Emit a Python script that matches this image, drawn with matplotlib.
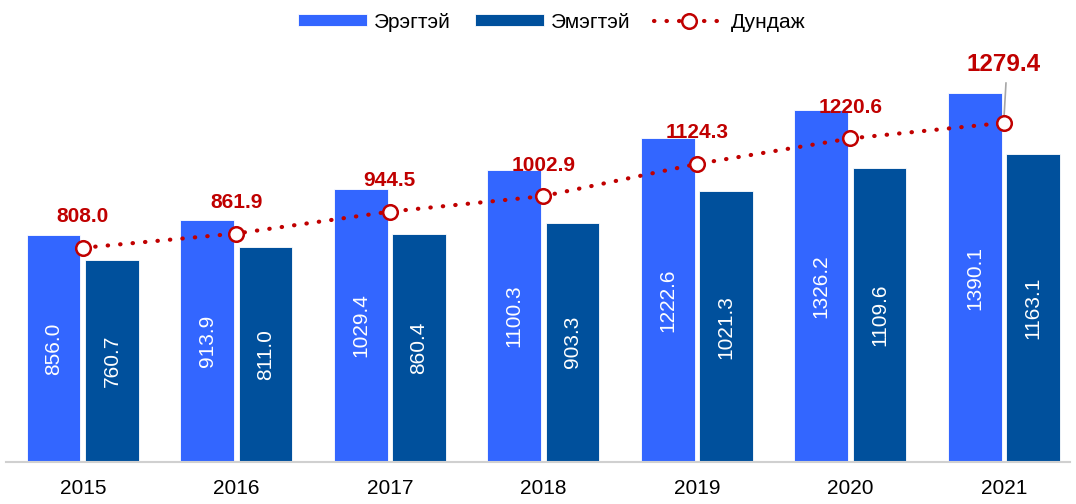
import matplotlib
matplotlib.use("Agg")
from matplotlib import pyplot as plt
import numpy as np

## Données
annees = ["2015", "2016", "2017", "2018", "2019", "2020", "2021"]
eregtei = [856.0, 913.9, 1029.4, 1100.3, 1222.6, 1326.2, 1390.1]
emegtei = [760.7, 811.0, 860.4, 903.3, 1021.3, 1109.6, 1163.1]
dundaj = [808.0, 861.9, 944.5, 1002.9, 1124.3, 1220.6, 1279.4]

## Couleurs
bleu = "#3366FF"
bleu_fonce = "#00509C"
rouge = "#C00000"

plt.rcParams["font.family"] = ["Liberation Sans", "DejaVu Sans"]

fig = plt.figure(figsize=(10.76, 5.04), dpi=100)
ax = fig.add_axes([6 / 1076, 42 / 504, 1064 / 1076, 417 / 504])

x = np.arange(len(annees))
w = 0.35
d = 0.19
b1 = ax.bar(x - d, eregtei, w, color=bleu, edgecolor="white", linewidth=0.6, label="Эрэгтэй", zorder=2)
b2 = ax.bar(x + d, emegtei, w, color=bleu_fonce, edgecolor="white", linewidth=0.6, label="Эмэгтэй", zorder=2)

# valeurs au milieu des barres
for i in range(len(annees)):
    ax.text(x[i] - d, eregtei[i] / 2, "%.1f" % eregtei[i], rotation=90, color="white", fontsize=15,
            ha="center", va="center", zorder=3)
    ax.text(x[i] + d, emegtei[i] / 2, "%.1f" % emegtei[i], rotation=90, color="white", fontsize=15,
            ha="center", va="center", zorder=3)

ligne, = ax.plot(x, dundaj, color=rouge, linewidth=3, linestyle=(0, (0.1, 2.9)), dash_capstyle="round",
                 marker="o", markersize=10.5, markerfacecolor="white", markeredgecolor=rouge,
                 markeredgewidth=1.8, label="Дундаж", zorder=4)

for i in range(len(annees) - 1):
    ax.text(x[i], dundaj[i] + 117, "%.1f" % dundaj[i], color=rouge, fontsize=15,
            fontweight="bold", ha="center", va="center", zorder=5)

# dernière valeur avec trait de rappel
ax.plot([x[-1], x[-1] + 0.013], [dundaj[-1] + 18, dundaj[-1] + 150], color="#A6A6A6",
        linewidth=1.2, zorder=3)
ax.text(x[-1], dundaj[-1] + 219, "%.1f" % dundaj[-1], color=rouge, fontsize=17.5,
        fontweight="bold", ha="center", va="center", zorder=5)

ax.set_xlim(-0.5, 6.43)
ax.set_ylim(0, 1573)
ax.set_xticks(x)
ax.set_xticklabels(annees, fontsize=15)
ax.tick_params(axis="x", length=0, pad=12)
ax.set_yticks([])
for s in ["top", "right", "left"]:
    ax.spines[s].set_visible(False)
ax.spines["bottom"].set_color("#D0D0D0")
ax.spines["bottom"].set_linewidth(1.5)

fig.legend([b1, b2, ligne], ["Эрэгтэй", "Эмэгтэй", "Дундаж"], loc="center",
           bbox_to_anchor=(0.5126, 1 - 22 / 504), ncol=3, frameon=False, fontsize=15,
           handlelength=3.3, handleheight=0.5, columnspacing=1.15, handletextpad=0.35)

plt.savefig("out.png", dpi=100)
